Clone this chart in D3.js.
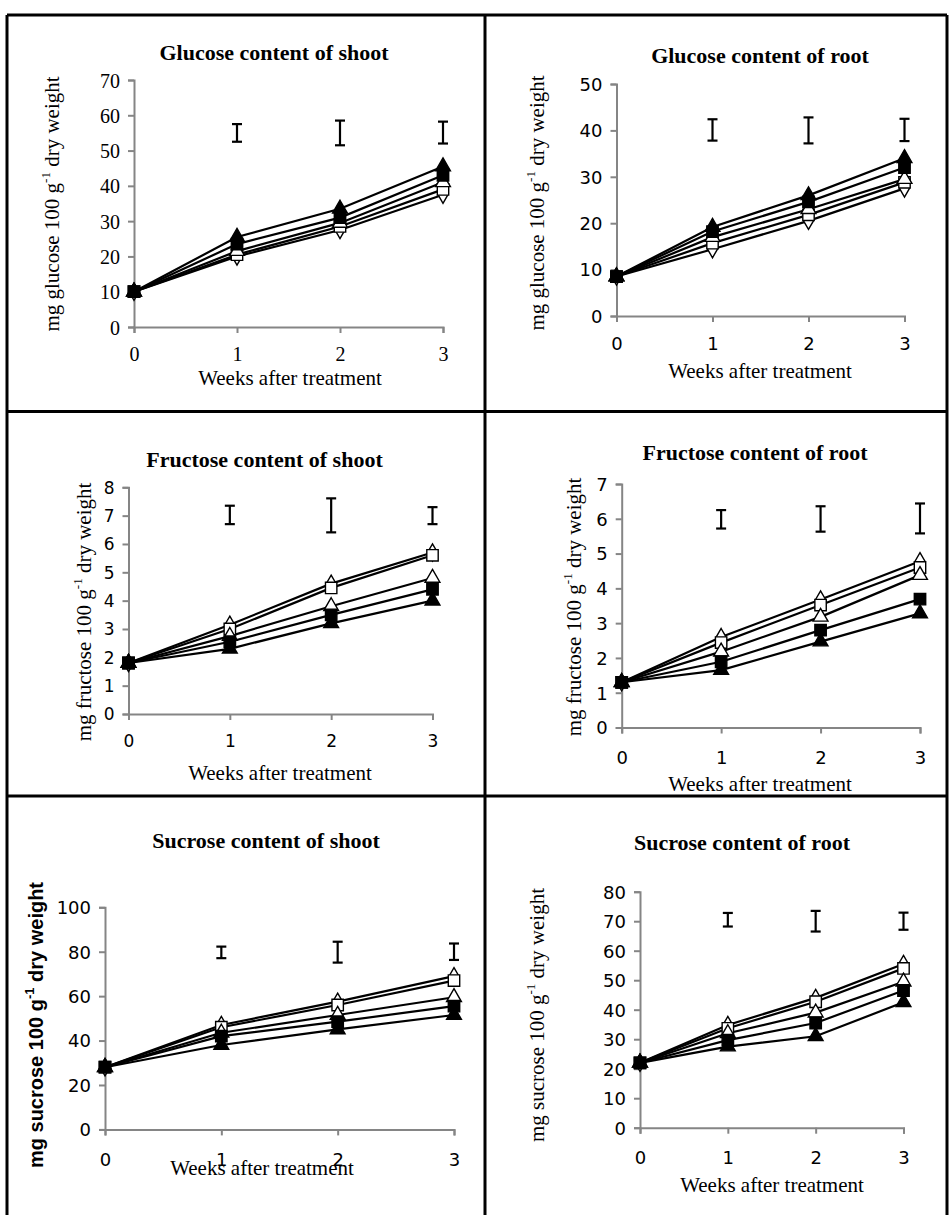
<!DOCTYPE html>
<html><head><meta charset="utf-8">
<script src="https://cdn.jsdelivr.net/npm/d3@7"></script>
<style>body{margin:0;background:#fff} svg{display:block}</style>
</head><body><svg id="c" width="949" height="1215"></svg>
<script>
// ---------- data ----------
const weeks = [0, 1, 2, 3];
const xTickLabels = ["0", "1", "2", "3"];
const seriesMarkers = ["openDiamond", "openSquare", "openTriangle", "filledTriangle", "filledSquare"];

// order of rows in each value table follows seriesMarkers
const glucoseShoot = [
  [10, 20, 27.5, 37.5],
  [10, 20.5, 28.5, 39],
  [10, 21.5, 29.5, 41],
  [10, 25.5, 33.5, 45.5],
  [10, 23.5, 31, 43]
];
const glucoseShootLSD = [[52.5, 57.5], [51.5, 58.5], [52, 58.2]];
const glucoseShootTicks = [0, 10, 20, 30, 40, 50, 60, 70];

const glucoseRoot = [
  [8.5, 14.4, 20.5, 27.5],
  [8.5, 15.7, 21.8, 28.8],
  [8.5, 17, 23, 29.5],
  [8.5, 19.2, 26, 34],
  [8.5, 18.2, 24.6, 32]
];
const glucoseRootLSD = [[37.8, 42.4], [37.2, 42.8], [37.7, 42.5]];
const glucoseRootTicks = [0, 10, 20, 30, 40, 50];

const fructoseShoot = [
  [1.8, 3.15, 4.6, 5.7],
  [1.8, 3.0, 4.45, 5.6],
  [1.8, 2.75, 3.8, 4.8],
  [1.8, 2.3, 3.2, 4.0],
  [1.8, 2.55, 3.5, 4.4]
];
const fructoseShootLSD = [[6.7, 7.35], [6.41, 7.61], [6.7, 7.3]];
const fructoseShootTicks = [0, 1, 2, 3, 4, 5, 6, 7, 8];

const fructoseRoot = [
  [1.3, 2.6, 3.68, 4.78],
  [1.3, 2.44, 3.52, 4.6],
  [1.3, 2.18, 3.18, 4.38],
  [1.3, 1.65, 2.47, 3.28],
  [1.3, 1.89, 2.8, 3.69]
];
const fructoseRootLSD = [[5.72, 6.25], [5.63, 6.36], [5.58, 6.44]];
const fructoseRootTicks = [0, 1, 2, 3, 4, 5, 6, 7];

const sucroseShoot = [
  [28, 47, 57.5, 69],
  [28, 46, 56, 67],
  [28, 43.5, 51.5, 59.5],
  [28, 38, 45, 51.5],
  [28, 42, 48.5, 55.5]
];
const sucroseShootLSD = [[77.1, 82.3], [75.1, 84.5], [76.3, 83.7]];
const sucroseShootTicks = [0, 20, 40, 60, 80, 100];

const sucroseRoot = [
  [22, 34.8, 44, 55.5],
  [22, 33.7, 42.7, 54],
  [22, 32, 39, 49.5],
  [22, 27.5, 31, 42.5],
  [22, 29.7, 35.5, 46.5]
];
const sucroseRootLSD = [[68.2, 72.8], [66.5, 73.5], [67.1, 72.9]];
const sucroseRootTicks = [0, 10, 20, 30, 40, 50, 60, 70, 80];

const titles = ["Glucose content of shoot", "Glucose content of root",
  "Fructose content of shoot", "Fructose content of root",
  "Sucrose content of shoot", "Sucrose content of root"];
const sugars = ["glucose", "glucose", "fructose", "fructose", "sucrose", "sucrose"];
const xAxisTitle = "Weeks after treatment";

// ---------- layout (pixels / styles) ----------
const SERIF = "'Liberation Serif','Times New Roman',serif";
const SANS = "'DejaVu Sans',Verdana,sans-serif";
const ARIAL = "'Liberation Sans',Arial,sans-serif";
const layouts = [
  {x0:134, x3:443, yb:327, yt:80, tX:274, tY:60, xtY:361, xlX:290, xlY:385, ylX:52, ylY:204, tickF:SERIF, tickS:20, ylF:SERIF, ylW:"normal", ylS:21},
  {x0:616.5, x3:904.5, yb:316, yt:84, tX:760, tY:63, xtY:350, xlX:760, xlY:378, ylX:537, ylY:203, tickF:SANS, tickS:18, ylF:SERIF, ylW:"normal", ylS:21},
  {x0:128.5, x3:432.5, yb:714, yt:487.3, tX:264.5, tY:467, xtY:747, xlX:280, xlY:780, ylX:84, ylY:612, tickF:SANS, tickS:17, ylF:SERIF, ylW:"normal", ylS:21},
  {x0:621.7, x3:920, yb:727.5, yt:484, tX:755, tY:460, xtY:764, xlX:760, xlY:791, ylX:574, ylY:607, tickF:SANS, tickS:18, ylF:SERIF, ylW:"normal", ylS:21},
  {x0:105, x3:454, yb:1129.4, yt:907.3, tX:266, tY:848, xtY:1166, xlX:262, xlY:1175, ylX:36, ylY:1025, tickF:SANS, tickS:18, ylF:ARIAL, ylW:"bold", ylS:20},
  {x0:640, x3:903.5, yb:1127.7, yt:891.7, tX:742, tY:850, xtY:1164, xlX:772, xlY:1192, ylX:537, ylY:1015, tickF:SANS, tickS:18, ylF:SERIF, ylW:"normal", ylS:21}
];

const panelData = [glucoseShoot, glucoseRoot, fructoseShoot, fructoseRoot, sucroseShoot, sucroseRoot];
const panelLSD = [glucoseShootLSD, glucoseRootLSD, fructoseShootLSD, fructoseRootLSD, sucroseShootLSD, sucroseRootLSD];
const panelTicks = [glucoseShootTicks, glucoseRootTicks, fructoseShootTicks, fructoseRootTicks, sucroseShootTicks, sucroseRootTicks];

const svg = d3.select("#c");
svg.append("rect").attr("width", 949).attr("height", 1215).attr("fill", "#fff");

// frame
const frame = svg.append("g").attr("stroke", "#000").attr("stroke-width", 3).attr("fill", "none");
frame.append("line").attr("x1", 7).attr("x2", 947).attr("y1", 15).attr("y2", 15);
frame.append("line").attr("x1", 7).attr("x2", 7).attr("y1", 15).attr("y2", 1215);
frame.append("line").attr("x1", 947).attr("x2", 947).attr("y1", 15).attr("y2", 1215);
frame.append("line").attr("x1", 485).attr("x2", 485).attr("y1", 15).attr("y2", 1215);
frame.append("line").attr("x1", 7).attr("x2", 947).attr("y1", 411.5).attr("y2", 411.5);
frame.append("line").attr("x1", 7).attr("x2", 947).attr("y1", 796).attr("y2", 796);

const AXIS = "#858585";

function marker(kind) {
  if (kind.endsWith("Square")) return d3.symbol(d3.symbolSquare, 130)();
  if (kind.endsWith("Triangle")) return d3.symbol(d3.symbolTriangle, 95)();
  return d3.symbol(d3.symbolDiamond, 85)();
}

panelData.forEach((data, p) => {
  const L = layouts[p];
  const ticks = panelTicks[p];
  const x = d3.scaleLinear().domain([weeks[0], weeks[weeks.length - 1]]).range([L.x0, L.x3]);
  const y = d3.scaleLinear().domain([0, ticks[ticks.length - 1]]).range([L.yb, L.yt]);
  const g = svg.append("g");

  // y axis
  const ya = g.append("g").attr("transform", `translate(${L.x0},0)`)
    .call(d3.axisLeft(y).tickValues(ticks).tickFormat(d => String(d)).tickSize(6).tickSizeOuter(6).tickPadding(8));
  // x axis
  const xa = g.append("g").attr("transform", `translate(0,${L.yb})`)
    .call(d3.axisBottom(x).tickValues(weeks).tickFormat((d, i) => xTickLabels[i]).tickSize(6).tickSizeOuter(6));
  [ya, xa].forEach(a => {
    a.select(".domain").attr("stroke", AXIS).attr("stroke-width", 2);
    a.selectAll(".tick line").attr("stroke", AXIS).attr("stroke-width", 2);
    a.selectAll(".tick text").attr("fill", "#000").attr("font-family", L.tickF).attr("font-size", L.tickS);
  });
  ya.selectAll(".tick text").attr("dy", "0.35em");
  xa.selectAll(".tick text").attr("dy", null).attr("y", L.xtY - L.yb);

  // LSD bars
  const lsd = panelLSD[p];
  const eb = g.append("g").attr("stroke", "#000").attr("stroke-width", 2.2);
  lsd.forEach((r, i) => {
    const xx = x(weeks[i + 1]);
    eb.append("line").attr("x1", xx).attr("x2", xx).attr("y1", y(r[0])).attr("y2", y(r[1]));
    eb.append("line").attr("x1", xx - 5).attr("x2", xx + 5).attr("y1", y(r[0])).attr("y2", y(r[0]));
    eb.append("line").attr("x1", xx - 5).attr("x2", xx + 5).attr("y1", y(r[1])).attr("y2", y(r[1]));
  });

  // lines
  const line = d3.line().x((d, i) => x(weeks[i])).y(d => y(d));
  data.forEach(s => {
    g.append("path").attr("d", line(s)).attr("fill", "none").attr("stroke", "#000").attr("stroke-width", 2.2);
  });
  // markers
  data.forEach((s, k) => {
    const kind = seriesMarkers[k];
    const filled = kind.startsWith("filled");
    g.append("g").selectAll("path").data(s).join("path")
      .attr("d", marker(kind))
      .attr("transform", (d, i) => `translate(${x(weeks[i])},${y(d)})`)
      .attr("fill", filled ? "#000" : "#fff")
      .attr("stroke", "#000").attr("stroke-width", 1.4);
  });

  // title
  g.append("text").attr("x", L.tX).attr("y", L.tY).attr("text-anchor", "middle")
    .attr("font-family", SERIF).attr("font-weight", "bold").attr("font-size", 22).text(titles[p]);
  // x title
  g.append("text").attr("x", L.xlX).attr("y", L.xlY).attr("text-anchor", "middle")
    .attr("font-family", SERIF).attr("font-size", 21).text(xAxisTitle);
  // y title
  const yt = g.append("text").attr("transform", `translate(${L.ylX},${L.ylY}) rotate(-90)`)
    .attr("text-anchor", "middle").attr("dominant-baseline", "central")
    .attr("font-family", L.ylF).attr("font-weight", L.ylW).attr("font-size", L.ylS);
  yt.append("tspan").text(`mg ${sugars[p]} 100 g`);
  yt.append("tspan").attr("dy", -7).attr("font-size", 13).text("-1");
  yt.append("tspan").attr("dy", 7).text(" dry weight");
});
</script></body></html>
